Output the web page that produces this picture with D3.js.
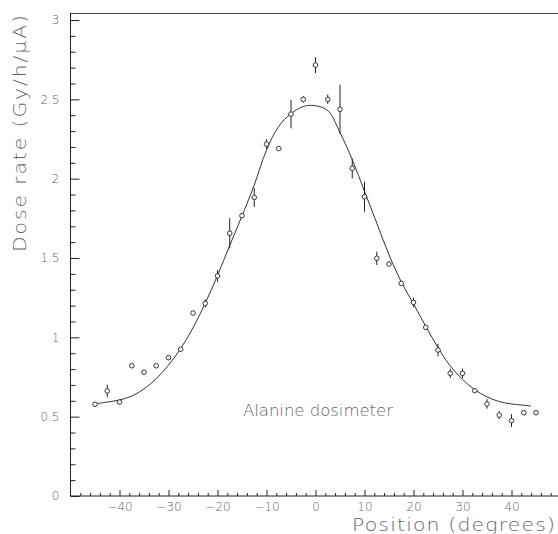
<!DOCTYPE html>
<html>
<head>
<meta charset="utf-8">
<script src="https://cdn.jsdelivr.net/npm/d3@7"></script>
<style>
  html, body { margin: 0; padding: 0; background: #fff; }
  svg { display: block; }
  text { font-family: "DejaVu Sans", sans-serif; fill: #666; font-weight: 300; }
</style>
</head>
<body>
<svg id="chart" width="558" height="534"></svg>
<script>
// ---- data ----
const positions = [-45, -42.5, -40, -37.5, -35, -32.5, -30, -27.5, -25, -22.5, -20, -17.5, -15, -12.5, -10, -7.5, -5, -2.5, 0,
                   2.5, 5, 7.5, 10, 12.5, 15, 17.5, 20, 22.5, 25, 27.5, 30, 32.5, 35, 37.5, 40, 42.5, 45];
const doseRate = [0.578, 0.662, 0.592, 0.821, 0.780, 0.821, 0.872, 0.925, 1.153, 1.214, 1.387, 1.656, 1.767, 1.882, 2.218, 2.190, 2.407, 2.500, 2.716,
                  2.500, 2.437, 2.065, 1.886, 1.498, 1.462, 1.340, 1.220, 1.063, 0.920, 0.773, 0.773, 0.664, 0.580, 0.510, 0.475, 0.525, 0.525];
const doseError = [0, 0.04, 0, 0, 0, 0, 0, 0, 0, 0.025, 0.037, 0.095, 0, 0.06, 0.03, 0, 0.09, 0.02, 0.05,
                   0.03, 0.155, 0.063, 0.095, 0.042, 0, 0, 0.03, 0, 0.04, 0.03, 0.03, 0, 0.03, 0.025, 0.04, 0, 0];

const fitPosition = [-45, -42.5, -40, -37.5, -35, -32.5, -30, -27.5, -25, -22.5, -20, -17.5, -15, -12.5, -10, -7.5, -5, -2.5, -1, 0,
                     2.5, 5, 7.5, 10, 12.5, 15, 17.5, 20, 22.5, 25, 27.5, 30, 32.5, 35, 37.5, 40, 42.5, 44];
const fitDose = [0.580, 0.592, 0.605, 0.630, 0.675, 0.740, 0.825, 0.930, 1.060, 1.215, 1.390, 1.580, 1.765, 1.960, 2.180, 2.330, 2.410, 2.455, 2.462, 2.460,
                 2.430, 2.290, 2.120, 1.920, 1.720, 1.520, 1.350, 1.210, 1.070, 0.935, 0.820, 0.735, 0.670, 0.625, 0.595, 0.580, 0.572, 0.567];

const xMajorTicks = [-40, -30, -20, -10, 0, 10, 20, 30, 40];
const yMajorTicks = [0, 0.5, 1, 1.5, 2, 2.5, 3];

const xTitle = "Position (degrees)";
const yTitle = "Dose rate (Gy/h/\u03bcA)";
const noteText = "Alanine dosimeter";

// ---- drawing ----
const svg = d3.select("#chart");
const x = d3.scaleLinear().domain([-50, 50]).range([70.5, 560.5]);
const y = d3.scaleLinear().domain([0, 3]).range([496, 20]);
const yTop = 13;

const axisColor = "#222";

// minor ticks
const xMinor = d3.range(-48, 50, 2).filter(v => v % 10 !== 0);
const yMinor = d3.range(0, 31, 1).map(v => v / 10).filter(v => Math.round(v * 10) % 5 !== 0);

// frame top line
svg.append("line")
  .attr("x1", x(-50)).attr("x2", 558)
  .attr("y1", yTop + 0.5).attr("y2", yTop + 0.5)
  .attr("stroke", "#444").attr("stroke-width", 1);

// Y axis
const gy = svg.append("g").attr("transform", `translate(${x(-50)},0)`);
gy.append("line").attr("x1", 0).attr("x2", 0).attr("y1", y(0)).attr("y2", yTop)
  .attr("stroke", axisColor);
gy.append("g").call(d3.axisLeft(y).tickValues(yMinor).tickSize(-5).tickFormat(""))
  .call(g => g.select(".domain").remove())
  .call(g => g.selectAll("line").attr("stroke", axisColor));
gy.append("g").call(d3.axisLeft(y).tickValues(yMajorTicks).tickSize(-9).tickPadding(11)
    .tickFormat(d => String(d)))
  .call(g => g.select(".domain").remove())
  .call(g => g.selectAll("line").attr("stroke", axisColor))
  .call(g => g.selectAll("text").attr("font-size", 12).style("font-family", "DejaVu Sans").attr("fill", "#666"));

// X axis
const gx = svg.append("g").attr("transform", `translate(0,${y(0)})`);
gx.append("line").attr("x1", x(-50)).attr("x2", 558).attr("y1", 0).attr("y2", 0)
  .attr("stroke", axisColor);
gx.append("g").call(d3.axisBottom(x).tickValues(xMinor).tickSize(-3).tickFormat(""))
  .call(g => g.select(".domain").remove())
  .call(g => g.selectAll("line").attr("stroke", axisColor));
gx.append("g").call(d3.axisBottom(x).tickValues(xMajorTicks).tickSize(-6).tickPadding(6)
    .tickFormat(d => d < 0 ? "\u2212" + Math.abs(d) : String(d)))
  .call(g => g.select(".domain").remove())
  .call(g => g.selectAll("line").attr("stroke", axisColor))
  .call(g => g.selectAll("text").attr("font-size", 12).style("font-family", "DejaVu Sans").attr("fill", "#666"));

// fit curve
const fitData = fitPosition.map((p, i) => [p, fitDose[i]]);
svg.append("path")
  .datum(fitData)
  .attr("fill", "none")
  .attr("stroke", "#333")
  .attr("stroke-width", 1)
  .attr("d", d3.line().x(d => x(d[0])).y(d => y(d[1])).curve(d3.curveCatmullRom.alpha(0.5)));

// data points
const pts = positions.map((p, i) => ({ p, v: doseRate[i], e: doseError[i] }));
svg.append("g").selectAll("line")
  .data(pts.filter(d => d.e > 0))
  .join("line")
  .attr("x1", d => x(d.p)).attr("x2", d => x(d.p))
  .attr("y1", d => y(d.v - d.e)).attr("y2", d => y(d.v + d.e))
  .attr("stroke", "#222").attr("stroke-width", 1);
svg.append("g").selectAll("circle")
  .data(pts)
  .join("circle")
  .attr("cx", d => x(d.p)).attr("cy", d => y(d.v))
  .attr("r", 2.3)
  .attr("fill", "#fff")
  .attr("stroke", "#222").attr("stroke-width", 0.9);

// titles (horizontally widened to mimic the wide plotter font)
const sx = 1.2;
svg.append("text")
  .attr("transform", `translate(26,252) rotate(-90) scale(${sx},1)`)
  .attr("x", 0).attr("y", 0)
  .attr("font-size", 17)
  .attr("textLength", 237 / sx).attr("lengthAdjust", "spacing")
  .text(yTitle);

svg.append("text")
  .attr("transform", `translate(352,531) scale(${sx},1)`)
  .attr("x", 0).attr("y", 0)
  .attr("font-size", 17)
  .attr("textLength", 203 / sx).attr("lengthAdjust", "spacing")
  .text(xTitle);

svg.append("text")
  .attr("transform", `translate(243,416) scale(1.1,1)`)
  .attr("x", 0).attr("y", 0)
  .attr("font-size", 15)
  .attr("textLength", 150 / 1.1).attr("lengthAdjust", "spacing")
  .text(noteText);
</script>
</body>
</html>
